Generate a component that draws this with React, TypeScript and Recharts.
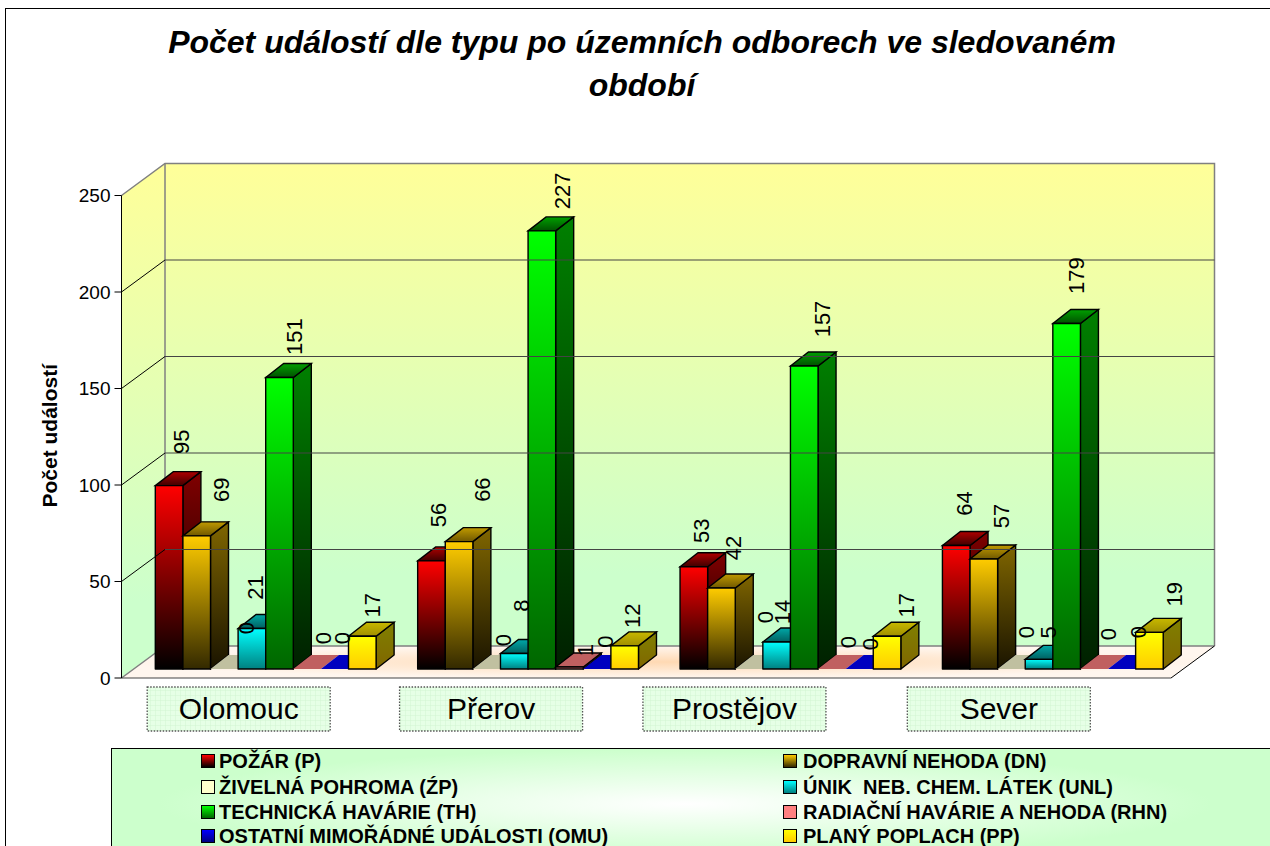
import React from 'react';
import { BarChart, Bar, XAxis, YAxis, ReferenceArea, ReferenceLine } from 'recharts';

const REGIONS = ['Olomouc', 'Přerov', 'Prostějov', 'Sever'];
const POZAR = [95, 56, 53, 64];
const NEHODA = [69, 66, 42, 57];
const POHROMA = [0, 0, 0, 0];
const UNIK = [21, 8, 14, 5];
const HAVARIE = [151, 227, 157, 179];
const RADIACNI = [0, 1, 0, 0];
const OSTATNI = [0, 0, 0, 0];
const POPLACH = [17, 12, 17, 19];
const Y_TICKS = [0, 50, 100, 150, 200, 250];
const GRID_VALUES = [50, 100, 150, 200];

const data = REGIONS.map((region, i) => ({
  region,
  p: POZAR[i],
  dn: NEHODA[i],
  zp: POHROMA[i],
  unl: UNIK[i],
  th: HAVARIE[i],
  rhn: RADIACNI[i],
  omu: OSTATNI[i],
  pp: POPLACH[i],
}));

const FONT = '"Liberation Sans", Arial, sans-serif';
const WIDTH = 1270;
const HEIGHT = 846;
const MARGIN = { top: 195.5, right: 99, bottom: 108, left: 61.5 };
const BAR_SIZE = 27.6;

// depth of the 3D box: whole floor, and one bar
const WALL_DX = 43.5;
const WALL_DY = 32;
const BAR_DX = 18;
const BAR_DY = 14;
const SHIFT_X = 12.8;
const SHIFT_Y = 9;

const SERIES = [
  { key: 'p', name: 'POŽÁR (P)', top: '#ff0000', bottom: '#000000', side1: '#800000', side2: '#000000', cap1: '#b00000', cap2: '#400000' },
  { key: 'dn', name: 'DOPRAVNÍ NEHODA (DN)', top: '#ffcc00', bottom: '#332900', side1: '#806600', side2: '#1a1400', cap1: '#c09a00', cap2: '#705800' },
  { key: 'zp', name: 'ŽIVELNÁ POHROMA (ŹP)', top: '#ffffcc', bottom: '#ffffcc', side1: '#808066', side2: '#808066', cap1: '#c0c0a0', cap2: '#c0c0a0' },
  { key: 'unl', name: 'ÚNIK  NEB. CHEM. LÁTEK (UNL)', top: '#00ffff', bottom: '#008080', side1: '#008080', side2: '#004040', cap1: '#00a8a8', cap2: '#006060' },
  { key: 'th', name: 'TECHNICKÁ HAVÁRIE (TH)', top: '#00ff00', bottom: '#006600', side1: '#008000', side2: '#002000', cap1: '#00a000', cap2: '#005000' },
  { key: 'rhn', name: 'RADIAČNÍ HAVÁRIE A NEHODA (RHN)', top: '#ff8080', bottom: '#ff8080', side1: '#804040', side2: '#804040', cap1: '#c06060', cap2: '#c06060' },
  { key: 'omu', name: 'OSTATNÍ MIMOŘÁDNÉ UDÁLOSTI (OMU)', top: '#0000ff', bottom: '#000080', side1: '#000080', side2: '#000060', cap1: '#0000c0', cap2: '#0000c0' },
  { key: 'pp', name: 'PLANÝ POPLACH (PP)', top: '#ffff00', bottom: '#ffcc00', side1: '#808000', side2: '#806600', cap1: '#c8b800', cap2: '#a09000' },
];

// the data labels were placed by hand in the original, offsets per series then per region
const LABEL_NUDGE = [
  [[12, -44], [7, -46], [8, -36], [8, -42]],
  [[25, -46], [23, -52], [12, -40], [18, -43]],
  [[22, -41], [17, -29], [16, -52], [15, -37]],
  [[4, -41], [7, -48], [6, -30], [9, -27]],
  [[15, -41], [21, -40], [18, -47], [10, -48]],
  [[16, -31], [16, -17], [17, -27], [14, -35]],
  [[8, -31], [8, -27.5], [11, -25], [17, -37]],
  [[10, -31], [8, -30], [19, -31], [25, -38]],
];

// category boxes do not sit on the category centres
const TICK_NUDGE = [-14, -24, -43, -41];

const Box3D = (props: any) => {
  const { x, y, width, height, idx } = props;
  const x0 = x + SHIFT_X;
  const y0 = y - SHIFT_Y;
  const x1 = x0 + width;
  const y1 = y0 + height;
  const stroke = { stroke: '#000', strokeWidth: 1.4, strokeLinejoin: 'round' as const };
  return (
    <g>
      {height > 0 && (
        <polygon
          points={`${x1},${y0} ${x1 + BAR_DX},${y0 - BAR_DY} ${x1 + BAR_DX},${y1 - BAR_DY} ${x1},${y1}`}
          fill={`url(#side-${idx})`}
          {...stroke}
        />
      )}
      <polygon
        points={`${x0},${y0} ${x0 + BAR_DX},${y0 - BAR_DY} ${x1 + BAR_DX},${y0 - BAR_DY} ${x1},${y0}`}
        fill={`url(#cap-${idx})`}
        stroke={height > 0 ? '#000' : 'none'}
        strokeWidth={1.4}
      />
      {height > 0 && <rect x={x0} y={y0} width={width} height={height} fill={`url(#face-${idx})`} {...stroke} />}
    </g>
  );
};

const Walls = (props: any) => {
  const { x, y, width, height } = props;
  const b = y + height;
  const r = x + width;
  const bx = x + WALL_DX;
  const ty = y - WALL_DY;
  const by = b - WALL_DY;
  return (
    <g>
      <polygon points={`${x},${y} ${bx},${ty} ${bx},${by} ${x},${b}`} fill="url(#wallFill)" />
      <rect x={bx} y={ty} width={width} height={height} fill="url(#wallFill)" />
      <polygon points={`${x},${b} ${bx},${by} ${r + WALL_DX},${by} ${r},${b}`} fill="url(#floorFill)" />
      <path d={`M${x},${y} L${bx},${ty} L${r + WALL_DX},${ty} L${r + WALL_DX},${by}`} fill="none" stroke="#808080" strokeWidth={1.5} />
      <path d={`M${bx},${ty} L${bx},${by}`} fill="none" stroke="#808080" strokeWidth={1.5} />
      <path d={`M${x},${b} L${bx},${by} L${r + WALL_DX},${by}`} fill="none" stroke="#808080" strokeWidth={1.5} />
      <path d={`M${r},${b} L${r + WALL_DX},${by}`} fill="none" stroke="#000" strokeWidth={1} />
    </g>
  );
};

const GridLine = (props: any) => {
  const { x1, x2, y1 } = props;
  return (
    <g>
      <path d={`M${x1},${y1} L${x1 + WALL_DX},${y1 - WALL_DY}`} stroke="#000" strokeWidth={1} fill="none" />
      <path d={`M${x1 + WALL_DX},${y1 - WALL_DY} L${x2 + WALL_DX},${y1 - WALL_DY}`} stroke="#444" strokeWidth={1.2} fill="none" />
    </g>
  );
};

const RegionTick = (props: any) => {
  const { x, y, payload, index } = props;
  const cx = x + TICK_NUDGE[index];
  return (
    <g>
      <rect x={cx - 91.5} y={y + 1} width={183} height={44} fill="url(#tickGrid)" stroke="#555" strokeWidth={1.3} strokeDasharray="1.5 1.5" />
      <text x={cx} y={y + 33} textAnchor="middle" fontFamily={FONT} fontSize={30} fill="#000">
        {payload.value}
      </text>
    </g>
  );
};

const ValueLabel = (props: any) => {
  const { x, y, width, index, idx } = props;
  const s = SERIES[idx];
  const [dx, dy] = LABEL_NUDGE[idx][index];
  const cx = x + SHIFT_X + width / 2 + dx;
  const cy = y - SHIFT_Y + dy;
  return (
    <text
      x={cx}
      y={cy}
      transform={`rotate(-90 ${cx} ${cy})`}
      textAnchor="middle"
      dominantBaseline="central"
      fontFamily={FONT}
      fontSize={22}
      fill="#000"
    >
      {(data[index] as any)[s.key]}
    </text>
  );
};

const Legend3D = () => {
  const rows = [0, 1, 2, 3];
  const top = [761, 787, 812, 836];
  return (
    <div
      style={{
        position: 'absolute',
        left: 111,
        top: 748,
        width: 1170,
        height: 110,
        border: '1px solid #000',
        background: 'radial-gradient(ellipse 45% 50% at 49% 50%, #ffffff 0%, #ccffcc 100%)',
      }}
    >
      {rows.flatMap((r) =>
        [0, 1].map((c) => {
          const s = SERIES[r * 2 + c];
          return (
            <div
              key={s.key}
              style={{
                position: 'absolute',
                left: c === 0 ? 89 : 671,
                top: top[r] - 749 - 12,
                height: 24,
                lineHeight: '24px',
                whiteSpace: 'pre',
                fontFamily: FONT,
                fontWeight: 'bold',
                fontSize: 20,
                color: '#000',
              }}
            >
              <span
                style={{
                  position: 'absolute',
                  left: 0,
                  top: 5,
                  width: 12,
                  height: 12,
                  border: '1px solid #000',
                  background: `linear-gradient(${s.top}, ${s.bottom})`,
                }}
              />
              <span style={{ marginLeft: c === 0 ? 18 : 20 }}>{s.name}</span>
            </div>
          );
        })
      )}
    </div>
  );
};

export default function App() {
  return (
    <div style={{ position: 'absolute', left: 0, top: 0, width: WIDTH, height: HEIGHT, overflow: 'hidden', background: '#fff' }}>
      <div style={{ position: 'absolute', left: 5, top: 8, width: 1300, height: 900, border: '1px solid #000' }} />
      <div
        style={{
          position: 'absolute',
          left: 142,
          top: 21,
          width: 1000,
          textAlign: 'center',
          fontFamily: FONT,
          fontWeight: 'bold',
          fontStyle: 'italic',
          fontSize: 32,
          lineHeight: '43px',
          color: '#000',
        }}
      >
        Počet událostí dle typu po územních odborech ve sledovaném období
      </div>

      <div style={{ position: 'absolute', left: 0, top: 0 }}>
        <BarChart width={WIDTH} height={HEIGHT} data={data} margin={MARGIN} barSize={BAR_SIZE} barGap={0}>
          <defs>
            <linearGradient id="wallFill" x1="0" y1="0" x2="0" y2="1">
              <stop offset="0%" stopColor="#ffff99" />
              <stop offset="85%" stopColor="#ccffcc" />
              <stop offset="100%" stopColor="#ccffcc" />
            </linearGradient>
            <radialGradient id="floorFill" cx="50%" cy="50%" r="50%">
              <stop offset="0%" stopColor="#ffd9b3" />
              <stop offset="100%" stopColor="#fff6ee" />
            </radialGradient>
            <pattern id="tickGrid" width="5" height="5" patternUnits="userSpaceOnUse">
              <rect width="5" height="5" fill="#e6ffe6" />
              <path d="M5,0 L0,0 L0,5" fill="none" stroke="#d2f5d2" strokeWidth={1} />
            </pattern>
            {SERIES.map((s, i) => (
              <React.Fragment key={s.key}>
                <linearGradient id={`face-${i}`} x1="0" y1="0" x2="0" y2="1">
                  <stop offset="0%" stopColor={s.top} />
                  <stop offset="100%" stopColor={s.bottom} />
                </linearGradient>
                <linearGradient id={`side-${i}`} x1="0" y1="0" x2="0" y2="1">
                  <stop offset="0%" stopColor={s.side1} />
                  <stop offset="100%" stopColor={s.side2} />
                </linearGradient>
                <linearGradient id={`cap-${i}`} x1="0" y1="0" x2="0" y2="1">
                  <stop offset="0%" stopColor={s.cap1} />
                  <stop offset="100%" stopColor={s.cap2} />
                </linearGradient>
              </React.Fragment>
            ))}
          </defs>
          <ReferenceArea y1={0} y2={250} shape={<Walls />} ifOverflow="visible" />
          {GRID_VALUES.map((v) => (
            <ReferenceLine key={v} y={v} ifOverflow="visible" shape={(p: any) => <GridLine {...p} />} />
          ))}
          <XAxis
            dataKey="region"
            height={60}
            interval={0}
            tickLine={false}
            axisLine={{ stroke: '#444', strokeWidth: 1.2 }}
            tick={(p: any) => <RegionTick {...p} />}
          />
          <YAxis
            width={60}
            domain={[0, 250]}
            ticks={Y_TICKS}
            interval={0}
            tickSize={7}
            tickMargin={4}
            axisLine={{ stroke: '#000' }}
            tickLine={{ stroke: '#000' }}
            tick={{ fontFamily: FONT, fontSize: 19, fill: '#000' }}
            label={{
              value: 'Počet událostí',
              angle: -90,
              position: 'center',
              dx: -42,
              dy: -1,
              fontFamily: FONT,
              fontWeight: 'bold',
              fontSize: 21,
              fill: '#000',
            }}
          />
          {SERIES.map((s, i) => (
            <Bar
              key={s.key}
              dataKey={s.key}
              name={s.name}
              isAnimationActive={false}
              shape={(p: any) => <Box3D {...p} idx={i} />}
            />
          ))}
        </BarChart>
      </div>

      {/* second pass on top: the labels sit over every box, also the ones drawn later */}
      <div style={{ position: 'absolute', left: 0, top: 0 }}>
        <BarChart
          width={WIDTH}
          height={HEIGHT}
          data={data}
          margin={{ top: MARGIN.top, right: MARGIN.right, bottom: 168, left: 121.5 }}
          barSize={BAR_SIZE}
          barGap={0}
        >
          <XAxis dataKey="region" hide />
          <YAxis hide domain={[0, 250]} />
          {SERIES.map((s, i) => (
            <Bar
              key={s.key}
              dataKey={s.key}
              fill="none"
              isAnimationActive={false}
              shape={(p: any) => <ValueLabel {...p} idx={i} />}
            />
          ))}
        </BarChart>
      </div>

      <Legend3D />
    </div>
  );
}
